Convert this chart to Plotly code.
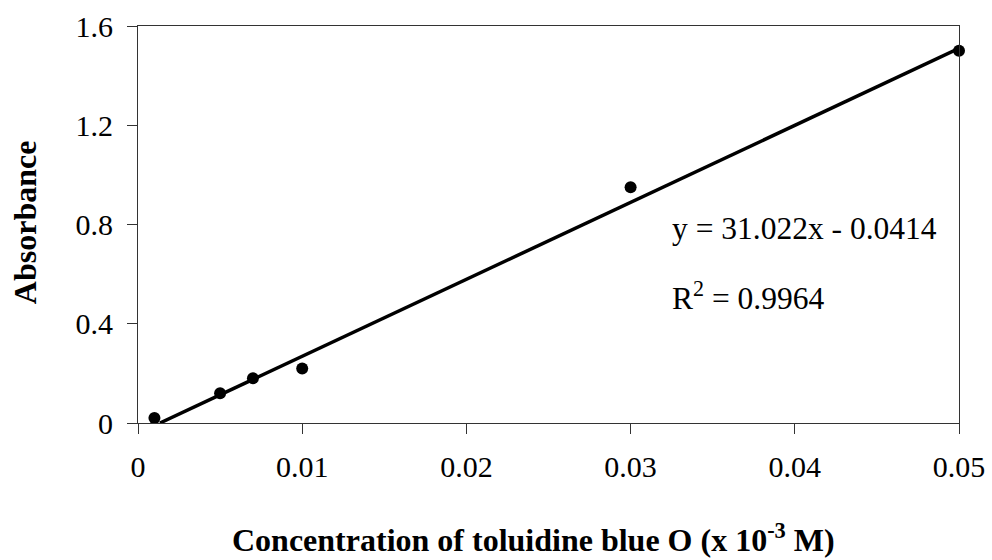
import plotly.graph_objects as go

# Data
conc = [0.001, 0.005, 0.007, 0.01, 0.03, 0.05]
absorbance = [0.02, 0.12, 0.18, 0.22, 0.95, 1.50]
slope = 31.022
intercept = -0.0414
r2 = 0.9964
x_ticks = [0, 0.01, 0.02, 0.03, 0.04, 0.05]
x_tick_labels = ["0", "0.01", "0.02", "0.03", "0.04", "0.05"]
y_ticks = [0, 0.4, 0.8, 1.2, 1.6]
y_tick_labels = ["0", "0.4", "0.8", "1.2", "1.6"]
x_title = "<b>Concentration of toluidine blue O (x 10<sup>-3</sup> M)</b>"
y_title = "<b>Absorbance</b>"

line_x = [-intercept / slope, max(conc)]
line_y = [slope * x + intercept for x in line_x]

font_family = "Liberation Serif, Times New Roman, serif"

fig = go.Figure()
fig.add_trace(go.Scatter(x=line_x, y=line_y, mode="lines",
                         line=dict(color="black", width=3.5), showlegend=False, hoverinfo="skip"))
fig.add_trace(go.Scatter(x=conc, y=absorbance, mode="markers",
                         marker=dict(color="black", size=12), showlegend=False, cliponaxis=False))

fig.add_annotation(x=0.0324, y=0.782, xref="x", yref="y", xanchor="left", yanchor="middle",
                   text="y = 31.022x - 0.0414", showarrow=False,
                   font=dict(family=font_family, size=31.5, color="black"))
fig.add_annotation(x=0.0324, y=0.512, xref="x", yref="y", xanchor="left", yanchor="middle",
                   text=f"R<sup>2</sup> = {r2}", showarrow=False,
                   font=dict(family=font_family, size=31.5, color="black"))

# axis titles as paper annotations for precise placement
fig.add_annotation(x=0.482, y=-0.29, xref="paper", yref="paper", xanchor="center", yanchor="middle",
                   text=x_title, showarrow=False,
                   font=dict(family=font_family, size=32, color="black"))
fig.add_annotation(x=-0.1376, y=0.506, xref="paper", yref="paper", xanchor="center", yanchor="middle",
                   text=y_title, showarrow=False, textangle=-90,
                   font=dict(family=font_family, size=32, color="black"))

fig.update_layout(
    width=992, height=560,
    margin=dict(l=138, r=33, t=26, b=137),
    paper_bgcolor="white", plot_bgcolor="white",
    font=dict(family=font_family, size=30, color="black"),
    xaxis=dict(range=[0, 0.05], tickvals=x_ticks, ticktext=x_tick_labels,
               showgrid=False, zeroline=False, showline=True, linecolor="#333", linewidth=1,
               mirror=True, ticks="outside", ticklen=10, tickcolor="#333",
               tickfont=dict(size=30), ticklabelstandoff=7, automargin=False),
    yaxis=dict(range=[0, 1.6], tickvals=y_ticks, ticktext=y_tick_labels,
               showgrid=False, zeroline=False, showline=True, linecolor="#333", linewidth=1,
               mirror=True, ticks="outside", ticklen=10, tickcolor="#333",
               tickfont=dict(size=30), ticklabelstandoff=8, automargin=False),
)

fig.write_html("out.html", config={"displayModeBar": False},
               post_script="document.body.style.margin='0';document.body.style.overflow='hidden';")
